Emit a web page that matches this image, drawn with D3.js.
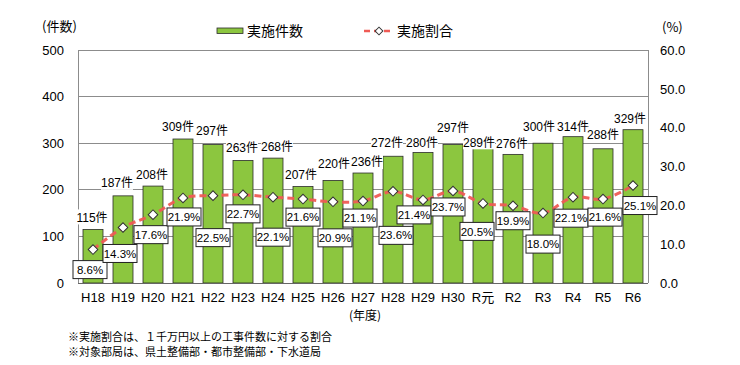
<!DOCTYPE html>
<html>
<head>
<meta charset="utf-8">
<script src="https://cdn.jsdelivr.net/npm/d3@7"></script>
<style>
  html, body { margin: 0; padding: 0; background: #fff; }
  svg { display: block; }
  text { font-family: "Liberation Sans", Arial, "Noto Sans CJK JP", sans-serif; fill: #000; }
  .jp { font-family: "Noto Sans CJK JP", "Liberation Sans", sans-serif; }
</style>
</head>
<body>
<svg id="chart" width="740" height="365"></svg>
<script>
// ---- data ----
const categories = ["H18","H19","H20","H21","H22","H23","H24","H25","H26","H27","H28","H29","H30","R元","R2","R3","R4","R5","R6"];
const counts = [115,187,208,309,297,263,268,207,220,236,272,280,297,289,276,300,314,288,329];
const rates = [8.6,14.3,17.6,21.9,22.5,22.7,22.1,21.6,20.9,21.1,23.6,21.4,23.7,20.5,19.9,18.0,22.1,21.6,25.1];
const leftTicks = [0,100,200,300,400,500];
const rightTicks = [0,10,20,30,40,50,60];
const seriesNames = ["実施件数","実施割合"];
const notes = ["※実施割合は、１千万円以上の工事件数に対する割合","※対象部局は、県土整備部・都市整備部・下水道局"];

// ---- label layout offsets (px) ----
const countLabelDx = [-1,-6,-1,-5,-1,-1,4,-2,1,4,-6,-1,0,-4,-1,-4,0,0,-3];
const countLabelDy = [-12,-13,-11,-12,-14,-13,-11,-12,-17,-11,-13,-10,-17,-6,-11,-16,-10,-14,-11];
const rateLabelDx = [-3,-3,-2,1,0,0,0,0,2,-3,3,-9,-5,-6,0,0,-2,2,7];
const rateLabelDy = [20,26,20,19,42,19,40,18,36,17,44,15,16,28,15,31,21,18,20];

const svg = d3.select("#chart");
const m = {left: 78, right: 648, top: 50, bottom: 283};

const x = d3.scaleBand().domain(categories).range([m.left, m.right]).paddingInner(1/3).paddingOuter(1/6);
const yL = d3.scaleLinear().domain([0,500]).range([m.bottom, m.top]);
const yR = d3.scaleLinear().domain([0,60]).range([m.bottom, m.top]);

const gridColor = "#8c8c8c";
const barFill = "#8cc63f";
const lineColor = "#ef5b55";

// gridlines
svg.append("g").selectAll("line").data(leftTicks.filter(d => d > 0)).join("line")
  .attr("x1", m.left).attr("x2", m.right)
  .attr("y1", d => yL(d)).attr("y2", d => yL(d))
  .attr("stroke", gridColor).attr("stroke-width", 1).attr("shape-rendering","crispEdges");

// frame verticals
svg.append("line").attr("x1", m.left).attr("x2", m.left).attr("y1", m.top).attr("y2", m.bottom)
  .attr("stroke", gridColor).attr("shape-rendering","crispEdges");
svg.append("line").attr("x1", m.right).attr("x2", m.right).attr("y1", m.top).attr("y2", m.bottom)
  .attr("stroke", gridColor).attr("shape-rendering","crispEdges");

// left axis
const axL = svg.append("g").attr("transform", `translate(${m.left},0)`)
  .call(d3.axisLeft(yL).tickValues(leftTicks).tickSize(0).tickPadding(14));
axL.select(".domain").remove();
axL.selectAll("text").attr("font-size", 13).attr("font-family", "Liberation Sans, Arial, sans-serif");

// right axis
const axR = svg.append("g").attr("transform", `translate(${m.right},0)`)
  .call(d3.axisRight(yR).tickValues(rightTicks).tickSize(0).tickPadding(12).tickFormat(d3.format(".1f")));
axR.select(".domain").remove();
axR.selectAll("text").attr("font-size", 13).attr("font-family", "Liberation Sans, Arial, sans-serif");

// bars
svg.append("g").selectAll("rect").data(counts).join("rect")
  .attr("x", (d,i) => x(categories[i]))
  .attr("y", d => yL(d))
  .attr("width", x.bandwidth())
  .attr("height", d => yL(0) - yL(d))
  .attr("fill", barFill).attr("stroke", "#2b2b2b").attr("stroke-width", 0.8);

// baseline
svg.append("line").attr("x1", m.left).attr("x2", m.right).attr("y1", m.bottom).attr("y2", m.bottom)
  .attr("stroke", "#666").attr("shape-rendering","crispEdges");

// count labels
const cl = svg.append("g").selectAll("g").data(counts).join("g")
  .attr("transform", (d,i) => `translate(${x(categories[i]) + x.bandwidth()/2 + countLabelDx[i]},${yL(d) + countLabelDy[i]})`);
cl.append("rect").attr("x", -16).attr("y", -8).attr("width", 32).attr("height", 15).attr("fill", "#fff");
cl.append("text").attr("text-anchor","middle").attr("dy","0.35em").attr("font-size", 12)
  .text(d => d + "件");

// rate line
const cx = i => x(categories[i]) + x.bandwidth()/2;
const line = d3.line().x((d,i) => cx(i)).y(d => yR(d)).curve(d3.curveCatmullRom.alpha(0.5));
svg.append("path").datum(rates).attr("d", line)
  .attr("fill","none").attr("stroke", lineColor).attr("stroke-width", 3)
  .attr("stroke-dasharray","7,4").attr("opacity", 0.95);

// markers
svg.append("g").selectAll("path").data(rates).join("path")
  .attr("d", d3.symbol().type(d3.symbolSquare).size(46))
  .attr("transform", (d,i) => `translate(${cx(i)},${yR(d)}) rotate(45)`)
  .attr("fill", "#fff").attr("stroke", "#333").attr("stroke-width", 1);

// rate labels
const rl = svg.append("g").selectAll("g").data(rates).join("g")
  .attr("transform", (d,i) => `translate(${cx(i) + rateLabelDx[i]},${yR(d) + rateLabelDy[i]})`);
rl.append("rect").attr("x", -17).attr("y", -9).attr("width", 34).attr("height", 18)
  .attr("fill", "#fff").attr("stroke", "#222").attr("stroke-width", 1);
rl.append("text").attr("text-anchor","middle").attr("dy","0.36em").attr("font-size", 11.5)
  .text(d => d3.format(".1f")(d) + "%");

// x labels
svg.append("g").selectAll("text").data(categories).join("text")
  .attr("x", (d) => x(d) + x.bandwidth()/2).attr("y", 302)
  .attr("text-anchor","middle").attr("font-size", 13)
  .text(d => d);
svg.append("text").attr("class","jp").attr("x", 365).attr("y", 320).attr("text-anchor","middle")
  .attr("font-size", 12).text("(年度)");

// axis titles
svg.append("text").attr("class","jp").attr("x", 42).attr("y", 31).attr("font-size", 13).text("(件数)");
svg.append("text").attr("class","jp").attr("x", 662).attr("y", 32).attr("font-size", 13).text("(%)");

// legend
const lg = svg.append("g");
lg.append("rect").attr("x", 217).attr("y", 28).attr("width", 26).attr("height", 5.5)
  .attr("fill", barFill).attr("stroke", "#2b2b2b").attr("stroke-width", 0.8);
lg.append("text").attr("class","jp").attr("x", 247).attr("y", 36).attr("font-size", 14).text(seriesNames[0]);
lg.append("line").attr("x1", 364).attr("x2", 394).attr("y1", 31).attr("y2", 31)
  .attr("stroke", lineColor).attr("stroke-width", 2.5).attr("stroke-dasharray","6,4");
lg.append("path").attr("d", d3.symbol().type(d3.symbolSquare).size(30))
  .attr("transform","translate(379,31) rotate(45)").attr("fill","#fff").attr("stroke","#333");
lg.append("text").attr("class","jp").attr("x", 397).attr("y", 36).attr("font-size", 14).text(seriesNames[1]);

// notes
svg.append("g").selectAll("text").data(notes).join("text").attr("class","jp")
  .attr("x", 68).attr("y", (d,i) => 341 + i*15).attr("font-size", 11).text(d => d);
</script>
</body>
</html>
